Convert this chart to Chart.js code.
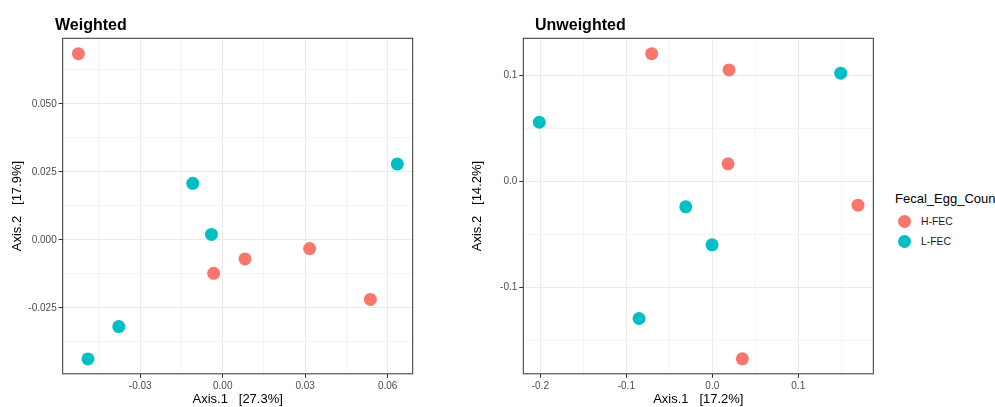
<!DOCTYPE html>
<html>
<head>
<meta charset="utf-8">
<script src="https://cdn.jsdelivr.net/npm/chart.js@4/dist/chart.umd.min.js"></script>
<style>
  html, body { margin: 0; padding: 0; background: #fff; overflow: hidden; width: 995px; height: 407px; }
  #wrap { position: relative; width: 995px; height: 407px; overflow: hidden; }
  canvas { position: absolute; top: 0; }
  #wChart { left: 0; }
  #uChart { left: 440px; }
  .leg { position: absolute; font-family: 'Liberation Sans', Arial, sans-serif; white-space: nowrap; }
  #legTitle { left: 895px; top: 191px; font-size: 13px; line-height: 15px; color: #000; }
  .legItem { left: 898px; height: 20px; display: flex; align-items: center; font-size: 10.4px; color: #1a1a1a; }
  .legItem span.dot { width: 13px; height: 13px; border-radius: 50%; display: inline-block; margin-right: 10px; }
</style>
</head>
<body>
<div id="wrap">
  <canvas id="wChart" width="440" height="407"></canvas>
  <canvas id="uChart" width="440" height="407"></canvas>
  <div id="legTitle" class="leg">Fecal_Egg_Count</div>
  <div class="leg legItem" style="top:211px"><span class="dot" style="background:#F8766D"></span>H-FEC</div>
  <div class="leg legItem" style="top:231px"><span class="dot" style="background:#00BFC4"></span>L-FEC</div>
</div>
<script>
// PCoA ordination coordinates per group
const groups = ['H-FEC', 'L-FEC'];
const groupColors = ['#F8766D', '#00BFC4'];

// Weighted UniFrac
const weightedH_x = [-0.0525, 0.0316, 0.0081, -0.0033, 0.0537];
const weightedH_y = [0.0685, -0.0032, -0.0070, -0.0123, -0.0219];
const weightedL_x = [0.0635, -0.0109, -0.0041, -0.0378, -0.0490];
const weightedL_y = [0.0279, 0.0208, 0.0020, -0.0319, -0.0438];

// Unweighted UniFrac
const unweightedH_x = [-0.0705, 0.0194, 0.0183, 0.1694, 0.0349];
const unweightedH_y = [0.1205, 0.1052, 0.0167, -0.0222, -0.1670];
const unweightedL_x = [0.1493, -0.2012, -0.0309, -0.0003, -0.0852];
const unweightedL_y = [0.1021, 0.0559, -0.0238, -0.0596, -0.1290];

// Tick labels (major breaks)
const weightedXTicks = [-0.03, 0.00, 0.03, 0.06];
const weightedYTicks = [-0.025, 0.000, 0.025, 0.050];
const unweightedXTicks = [-0.2, -0.1, 0.0, 0.1];
const unweightedYTicks = [-0.1, 0.0, 0.1];

// Axis limits (data range plus 5% expansion)
const weightedXLim = [-0.0582, 0.0691];
const weightedYLim = [-0.04926, 0.07415];
const unweightedXLim = [-0.2198, 0.1872];
const unweightedYLim = [-0.1811, 0.1350];

const FONT = "'Liberation Sans', Arial, sans-serif";

function toPoints(xs, ys) { return xs.map((x, i) => ({ x: x, y: ys[i] })); }

// major breaks plus half-step minor breaks inside the limits
function breaksFor(majors) {
  return function (scale) {
    const step = majors[1] - majors[0];
    const out = majors.map(v => ({ value: v, isMajor: true }));
    const cands = majors.map(v => v - step / 2).concat([majors[majors.length - 1] + step / 2]);
    cands.forEach(v => { if (v > scale.min && v < scale.max) out.push({ value: v, isMajor: false }); });
    out.sort((a, b) => a.value - b.value);
    scale.ticks = out;
  };
}

const panelBorder = {
  id: 'panelBorder',
  afterDatasetsDraw(chart) {
    const { ctx, chartArea: a } = chart;
    ctx.save();
    ctx.strokeStyle = '#333333';
    ctx.lineWidth = 1;
    ctx.strokeRect(a.left, a.top, a.right - a.left, a.bottom - a.top);
    ctx.restore();
  }
};

const panelTitle = {
  id: 'panelTitle',
  afterDraw(chart, args, opts) {
    const ctx = chart.ctx;
    ctx.save();
    ctx.font = 'bold 16px ' + FONT;
    ctx.fillStyle = '#000000';
    ctx.textBaseline = 'alphabetic';
    ctx.textAlign = 'left';
    ctx.fillText(opts.text, opts.x, opts.y);
    ctx.restore();
  }
};

function axisOptions(lim, majors, decimals, title, fitFn) {
  return {
    type: 'linear',
    min: lim[0],
    max: lim[1],
    afterBuildTicks: breaksFor(majors),
    afterFit: fitFn,
    border: { display: false },
    grid: {
      color: c => (c.tick && c.tick.isMajor) ? '#EBEBEB' : '#F4F4F4',
      lineWidth: 1,
      drawTicks: true,
      tickLength: 4,
      tickWidth: 1,
      tickColor: c => (c.tick && c.tick.isMajor) ? '#333333' : 'rgba(0,0,0,0)'
    },
    ticks: {
      autoSkip: false,
      maxRotation: 0,
      minRotation: 0,
      padding: 2,
      color: '#4D4D4D',
      font: { family: FONT, size: 10 },
      callback: (v, i, t) => t[i] && t[i].isMajor ? v.toFixed(decimals) : ''
    },
    title: {
      display: true,
      text: title,
      color: '#000000',
      padding: 0,
      font: { family: FONT, size: 13 }
    }
  };
}

function makePanel(id, cfg) {
  return new Chart(document.getElementById(id), {
    type: 'scatter',
    data: {
      datasets: [
        { label: groups[0], data: toPoints(cfg.hx, cfg.hy), backgroundColor: groupColors[0], borderWidth: 0, pointRadius: 6.5, pointHoverRadius: 6.5 },
        { label: groups[1], data: toPoints(cfg.lx, cfg.ly), backgroundColor: groupColors[1], borderWidth: 0, pointRadius: 6.5, pointHoverRadius: 6.5 }
      ]
    },
    options: {
      responsive: false,
      animation: false,
      devicePixelRatio: 1,
      layout: { padding: cfg.padding },
      plugins: {
        legend: { display: false },
        tooltip: { enabled: false },
        panelTitle: { text: cfg.title, x: cfg.titleX, y: 29.5 }
      },
      scales: {
        x: axisOptions(cfg.xlim, cfg.xticks, cfg.xdec, cfg.xtitle, s => { s.height = 33; }),
        y: axisOptions(cfg.ylim, cfg.yticks, cfg.ydec, cfg.ytitle, s => { s.width = cfg.yWidth; })
      }
    },
    plugins: [panelBorder, panelTitle]
  });
}

makePanel('wChart', {
  hx: weightedH_x, hy: weightedH_y, lx: weightedL_x, ly: weightedL_y,
  xlim: weightedXLim, ylim: weightedYLim,
  xticks: weightedXTicks, yticks: weightedYTicks, xdec: 2, ydec: 3,
  xtitle: 'Axis.1   [27.3%]', ytitle: 'Axis.2   [17.9%]',
  title: 'Weighted', titleX: 55,
  padding: { left: 9.7, top: 38.3, right: 27.3, bottom: 0.2 }, yWidth: 53
});

makePanel('uChart', {
  hx: unweightedH_x, hy: unweightedH_y, lx: unweightedL_x, ly: unweightedL_y,
  xlim: unweightedXLim, ylim: unweightedYLim,
  xticks: unweightedXTicks, yticks: unweightedYTicks, xdec: 1, ydec: 1,
  xtitle: 'Axis.1   [17.2%]', ytitle: 'Axis.2   [14.2%]',
  title: 'Unweighted', titleX: 95,
  padding: { left: 29.5, top: 38.3, right: 6.7, bottom: 0.2 }, yWidth: 53.8
});
</script>
</body>
</html>
